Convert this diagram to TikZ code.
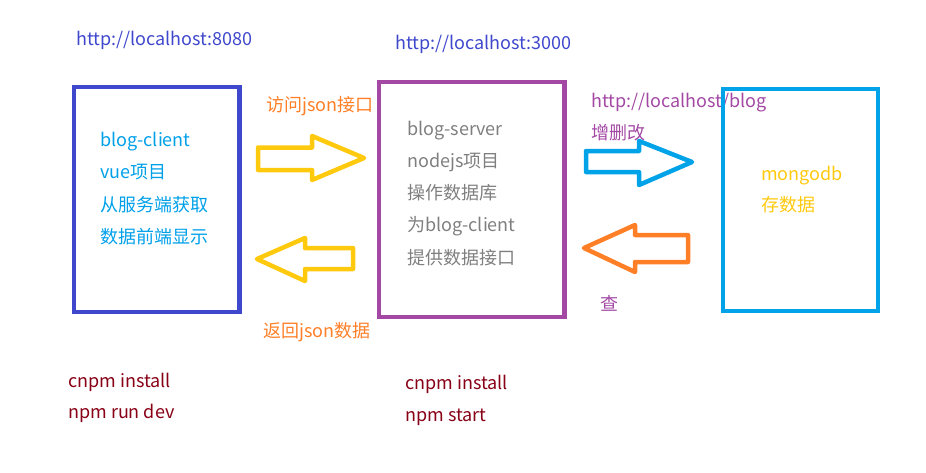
\documentclass[tikz,border=0pt]{standalone}
\usepackage{fontspec}
\setmainfont{Noto Sans CJK SC}
\definecolor{paintindigo}{RGB}{63, 72, 204}
\definecolor{paintpurple}{RGB}{163, 73, 164}
\definecolor{paintcyan}{RGB}{0, 162, 232}
\definecolor{paintyellow}{RGB}{255, 201, 14}
\definecolor{paintorange}{RGB}{255, 127, 39}
\definecolor{paintred}{RGB}{136, 0, 21}
\definecolor{textcyan}{RGB}{0, 160, 233}
\definecolor{textgray}{RGB}{127, 127, 127}
\usetikzlibrary{positioning}

\begin{document}
\begin{tikzpicture}[x=1pt, y=-1pt,
    every node/.style={inner sep=0pt, font=\fontsize{18pt}{22pt}\selectfont},
    lbl/.style={anchor=base west},
    box/.style={draw, line width=4.5pt, minimum width=#1},
    blockarrow/.style={draw=#1, line width=4.5pt, line join=round}]
  \useasboundingbox (0,0) rectangle (926,472);

  % addresses and labels
  \node[lbl, text=paintindigo] (url-client) at (76,45) {http://localhost:8080};
  \node[lbl, text=paintindigo] (url-server) at (395,49) {http://localhost:3000};
  \node[lbl, text=paintpurple] (url-db) at (591,107) {http://localhost/blog};
  \node[lbl, text=paintorange] (req) at (266,111) {访问json接口};
  \node[lbl, text=paintorange] (resp) at (263,337) {返回json数据};
  \node[lbl, text=paintpurple] (write) at (591,139) {增删改};
  \node[lbl, text=paintpurple] (read) at (600,310) {查};

  % the three boxes
  \node[box=165.5pt, draw=paintindigo, minimum height=225pt] (client) at (156.75,199.5) {};
  \node[box=185.5pt, draw=paintpurple, minimum height=235pt] (server) at (471.75,199.5) {};
  \node[box=155pt, draw=paintcyan, minimum height=222pt] (db) at (800.5,200) {};

  % box contents
  \foreach \t [count=\i] in {blog-client, vue项目, 从服务端获取, 数据前端显示}
    \node[lbl, text=textcyan] (client-\i) at (100,146+32.5*\i-32.5) {\t};
  \foreach \t [count=\i] in {blog-server, nodejs项目, 操作数据库, 为blog-client, 提供数据接口}
    \node[lbl, text=textgray] (server-\i) at (407,135+32.3*\i-32.3) {\t};
  \node[lbl, text=paintyellow] (db-1) at (761,180) {mongodb};
  \node[lbl, text=paintyellow] (db-2) at (761,211) {存数据};

  % block arrows
  \draw[blockarrow=paintyellow] (258,147.5) -- (312,147.5) -- (312,136) -- (364,158)
    -- (312,180) -- (312,170) -- (258,170) -- cycle;
  \draw[blockarrow=paintyellow] (257,259) -- (305,238) -- (305,248) -- (353,248)
    -- (353,269) -- (305,269) -- (305,281) -- cycle;
  \draw[blockarrow=paintcyan] (586,151) -- (639,151) -- (639,141) -- (692,162)
    -- (639,185) -- (639,172) -- (586,172) -- cycle;
  \draw[blockarrow=paintorange] (584,248) -- (635,225) -- (635,235) -- (688,235)
    -- (688,262) -- (635,262) -- (635,272) -- cycle;

  % commands
  \node[lbl, text=paintred] (cmd-client-1) at (68,387) {cnpm install};
  \node[lbl, text=paintred] (cmd-client-2) at (68,418) {npm run dev};
  \node[lbl, text=paintred] (cmd-server-1) at (405,389) {cnpm install};
  \node[lbl, text=paintred] (cmd-server-2) at (405,421) {npm start};
\end{tikzpicture}
\end{document}
